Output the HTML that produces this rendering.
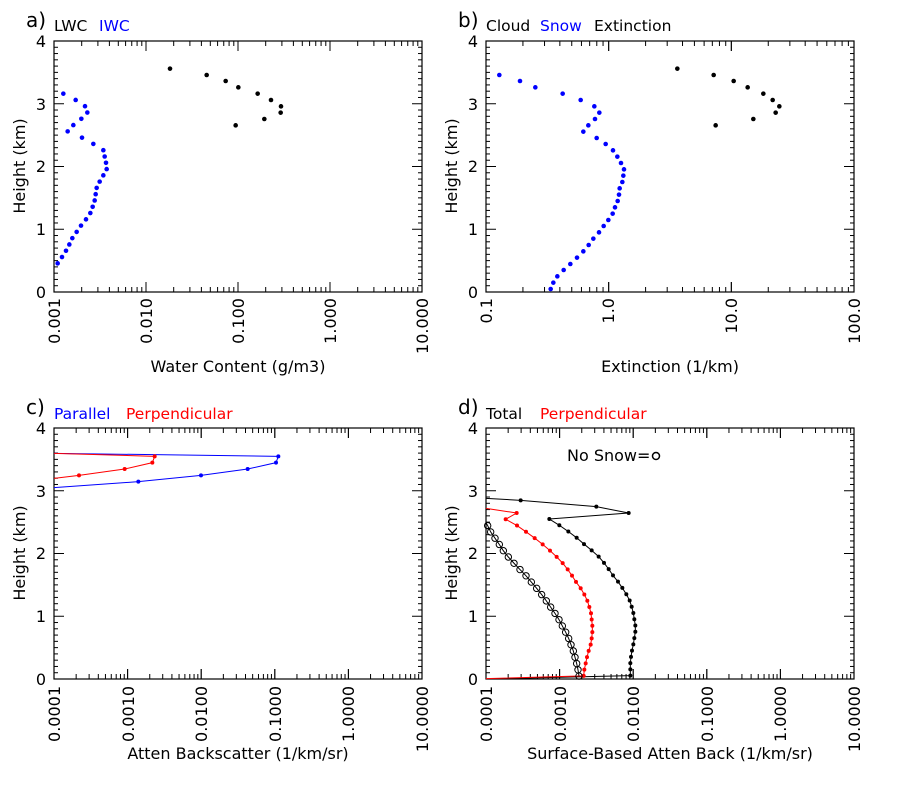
<!DOCTYPE html>
<html><head><meta charset="utf-8"><style>
body{margin:0;background:#fff}
svg{display:block;font-family:"DejaVu Sans","Liberation Sans",sans-serif}
</style></head><body>
<svg id="s" width="900" height="800" viewBox="0 0 900 800" xmlns="http://www.w3.org/2000/svg">
<rect width="900" height="800" fill="#fff"/>
<g font-size="20"><text x="26" y="27">a)</text><text x="458" y="27">b)</text><text x="26" y="414">c)</text><text x="458" y="414">d)</text></g>
<g font-size="15.5">
<text x="54" y="31">LWC</text><text x="99" y="31" fill="#0000ff">IWC</text>
<text x="486" y="31">Cloud</text><text x="540" y="31" fill="#0000ff">Snow</text><text x="594" y="31">Extinction</text>
<text x="54" y="419" fill="#0000ff">Parallel</text><text x="126" y="419" fill="#ff0000">Perpendicular</text>
<text x="486" y="419">Total</text><text x="540" y="419" fill="#ff0000">Perpendicular</text>
<text x="567" y="461" font-size="16">No Snow=</text>
</g>
<circle cx="656" cy="456" r="3.5" fill="none" stroke="#000" stroke-width="1.5"/>
<g font-size="16" text-anchor="middle">
<text x="238" y="372">Water Content (g/m3)</text>
<text x="670" y="372">Extinction (1/km)</text>
<text x="238" y="759">Atten Backscatter (1/km/sr)</text>
<text x="670" y="759">Surface-Based Atten Back (1/km/sr)</text>
<text transform="translate(25,166) rotate(-90)">Height (km)</text>
<text transform="translate(457,166) rotate(-90)">Height (km)</text>
<text transform="translate(25,553) rotate(-90)">Height (km)</text>
<text transform="translate(457,553) rotate(-90)">Height (km)</text>
</g>
<g font-size="16" text-anchor="end">
<text x="46" y="47">4</text><text x="46" y="110">3</text><text x="46" y="172">2</text><text x="46" y="235">1</text><text x="46" y="298">0</text>
<text x="478" y="47">4</text><text x="478" y="110">3</text><text x="478" y="172">2</text><text x="478" y="235">1</text><text x="478" y="298">0</text>
<text x="46" y="434">4</text><text x="46" y="497">3</text><text x="46" y="559">2</text><text x="46" y="622">1</text><text x="46" y="685">0</text>
<text x="478" y="434">4</text><text x="478" y="497">3</text><text x="478" y="559">2</text><text x="478" y="622">1</text><text x="478" y="685">0</text>
</g>
<g font-size="16" text-anchor="end">
<text transform="translate(60,298) rotate(-90)">0.001</text>
<text transform="translate(152,298) rotate(-90)">0.010</text>
<text transform="translate(244,298) rotate(-90)">0.100</text>
<text transform="translate(336,298) rotate(-90)">1.000</text>
<text transform="translate(428,298) rotate(-90)">10.000</text>
<text transform="translate(492,298) rotate(-90)">0.1</text>
<text transform="translate(614,298) rotate(-90)">1.0</text>
<text transform="translate(737,298) rotate(-90)">10.0</text>
<text transform="translate(860,298) rotate(-90)">100.0</text>
<text transform="translate(60,686) rotate(-90)">0.0001</text>
<text transform="translate(134,686) rotate(-90)">0.0010</text>
<text transform="translate(207,686) rotate(-90)">0.0100</text>
<text transform="translate(281,686) rotate(-90)">0.1000</text>
<text transform="translate(354,686) rotate(-90)">1.0000</text>
<text transform="translate(428,686) rotate(-90)">10.0000</text>
<text transform="translate(492,686) rotate(-90)">0.0001</text>
<text transform="translate(566,686) rotate(-90)">0.0010</text>
<text transform="translate(639,686) rotate(-90)">0.0100</text>
<text transform="translate(713,686) rotate(-90)">0.1000</text>
<text transform="translate(786,686) rotate(-90)">1.0000</text>
<text transform="translate(860,686) rotate(-90)">10.0000</text>
</g>
<g id="gen"></g>
</svg>
<script>
var g=document.getElementById("gen"),h="";
function L(x1,y1,x2,y2,c,w){h+='<line x1="'+x1+'" y1="'+y1+'" x2="'+x2+'" y2="'+y2+'" stroke="'+(c||"#000")+'" stroke-width="'+(w||1)+'"/>';}
function axes(l,r,t,b,dec){
 h+='<rect x="'+l+'" y="'+t+'" width="'+(r-l)+'" height="'+(b-t)+'" fill="none" stroke="#000" stroke-width="1.2"/>';
 var dw=(r-l)/dec;
 for(var d=0;d<dec;d++)for(var k=1;k<=10;k++){var x=l+dw*(d+Math.log10(k));var len=(k==1||k==10)?10:5;L(x,b,x,b-len);L(x,t,x,t+len);}
 for(var i=0;i<=40;i++){var y=b-(b-t)*i/40;var len=i%10==0?10:4;L(l,y,l+len,y);L(r,y,r-len,y);}
}
axes(54,422,41,292,4);axes(486,854,41,292,3);axes(54,422,428,679,5);axes(486,854,428,679,5);
function pts(ox,oy,a,c,r,open){a.forEach(function(p){h+='<circle cx="'+(ox+p[0]/3)+'" cy="'+(oy+p[1]/3)+'" r="'+(r||2.3)+'" fill="'+(open?"none":c)+'" stroke="'+c+'" stroke-width="'+(open?1:0)+'"/>';});}
function line(ox,oy,a,c){h+='<polyline fill="none" stroke="'+c+'" stroke-width="1" points="'+a.map(function(p){return (ox+p[0]/3)+","+(oy+p[1]/3)}).join(" ")+'"/>';}
pts(0,0,[[510,206],[620,225],[677,243],[715,262],[773,281],[813,300],[843,319],[842,338],[793,357],[707,376]],"#000");
var ix=[190,227,255,262,244,220,203,246,280,310,314,318,320,310,299,290,287,284,278,271,258,243,230,217,208,198,186,173];
pts(0,0,ix.map(function(x,i){return [x,281+i*18.85]}),"#0000ff");
pts(450,0,[[148,225],[210,243],[256,262],[338,281],[392,300],[433,319],[448,338],[435,357],[415,376],[400,395],[440,414],[467,432],[489,451],[502,470],[513,489],[522,508],[520,527],[517,546],[509,565],[507,584],[503,603],[495,622],[488,641],[475,660],[461,678],[447,697],[430,716],[416,735],[400,754],[381,773],[361,792],[341,810],[322,829],[310,848],[302,867]],"#0000ff");
pts(450,0,[[682,206],[791,225],[851,243],[893,262],[940,281],[968,300],[988,319],[977,338],[910,357],[797,376]],"#000");
var cb=[[835,169],[828,188],[743,207],[603,226],[415,245]],cr=[[464,169],[457,188],[374,207],[237,226]];
line(0,400,[[162,160]].concat(cb,[[162,263]]),"#0000ff");pts(0,400,cb,"#0000ff",2);
line(0,400,[[162,160]].concat(cr,[[162,235]]),"#ff0000");pts(0,400,cr,"#ff0000",2);
var tx=[298,328,355,380,402,425,446,462,476,489,504,517,529,539,545,550,553,556,556,553,550,546,543,541,541,541];
var dt=[[212,301],[439,320],[536,339]].concat(tx.map(function(x,i){return [x,357+i*18.8]}));
line(450,400,[[108,295]].concat(dt,[[108,837]]),"#000");pts(450,400,dt,"#000",2);
var rx=[200,167,201,228,254,278,300,320,338,353,366,378,392,403,412,418,423,425,427,427,425,422,416,411,407,403,401];
var dr=rx.map(function(x,i){return [x,339+i*18.8]});
line(450,400,[[108,325]].concat(dr,[[108,836]]),"#ff0000");pts(450,400,dr,"#ff0000",2);
var ox=[113,122,135,148,160,175,192,210,228,244,260,275,289,302,315,327,337,347,356,363,370,375,380,384,387];
var dO=ox.map(function(x,i){return [x,377+i*18.8]});
line(450,400,[[108,368]].concat(dO),"#000");pts(450,400,dO,"#000",3.2,true);
g.innerHTML=h;
</script>
</body></html>
